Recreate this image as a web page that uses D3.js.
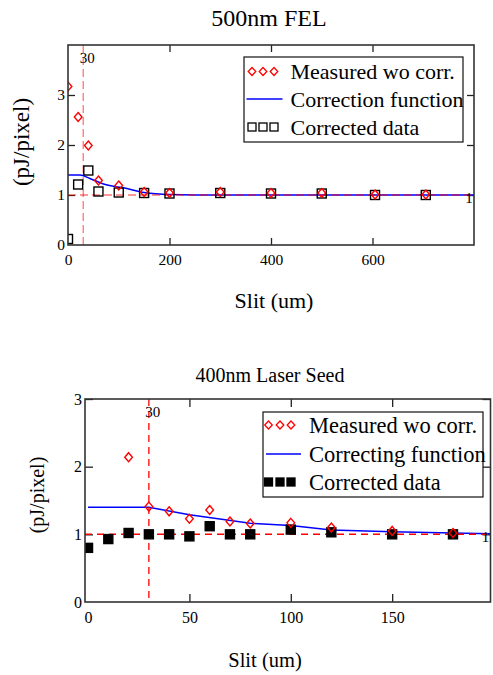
<!DOCTYPE html>
<html>
<head>
<meta charset="utf-8">
<script src="https://cdn.jsdelivr.net/npm/d3@7"></script>
<style>
  body { margin: 0; background: #fff; }
  svg text { font-family: "Liberation Serif", "Times New Roman", serif; }
</style>
</head>
<body>
<svg id="chart" width="493" height="675"></svg>
<script>
// ---- 500nm FEL panel data ----
var felSlit = [0, 20, 40, 60, 100, 150, 200, 300, 400, 500, 605, 705];
var felMeasured = [3.17, 2.56, 1.99, 1.29, 1.19, 1.06, 1.04, 1.06, 1.04, 1.04, 1.01, 1.01];
var felCorrected = [0.12, 1.21, 1.49, 1.07, 1.05, 1.04, 1.03, 1.04, 1.03, 1.03, 1.00, 1.00];
var felFuncSlit = [0, 24, 43, 70, 116, 150, 200, 300, 800];
var felFuncValue = [1.40, 1.40, 1.33, 1.22, 1.13, 1.05, 1.01, 1.00, 1.00];
var felXTicks = [0, 200, 400, 600];
var felYTicks = [0, 1, 2, 3];

// ---- 400nm Laser Seed panel data ----
var seedMeasSlit = [20, 30, 40, 50, 60, 70, 80, 100, 120, 150, 180];
var seedMeasured = [2.14, 1.41, 1.34, 1.23, 1.36, 1.19, 1.16, 1.17, 1.10, 1.05, 1.02];
var seedCorrSlit = [0, 10, 20, 30, 40, 50, 60, 70, 80, 100, 120, 150, 180];
var seedCorrected = [0.80, 0.93, 1.02, 1.00, 1.00, 0.97, 1.12, 1.00, 1.00, 1.07, 1.03, 1.00, 1.00];
var seedFuncSlit = [0, 30, 50, 80, 100, 120, 150, 180, 199];
var seedFuncValue = [1.40, 1.40, 1.29, 1.165, 1.13, 1.065, 1.04, 1.02, 1.01];
var seedXTicks = [0, 50, 100, 150];
var seedYTicks = [0, 1, 2, 3];

var cutoff = 30;   // vertical marker
var unity = 1;     // horizontal marker

var svg = d3.select("#chart");

function zip(xs, ys) {
    return xs.map(function(x, i) { return {x: x, y: ys[i]}; });
}

function drawPanel(o) {
    var g = svg.append("g");
    var x = d3.scaleLinear().domain(o.xDomain).range([o.left, o.right]);
    var y = d3.scaleLinear().domain(o.yDomain).range([o.bottom, o.top]);
    var w = o.right - o.left, h = o.bottom - o.top;
    var fmt = d3.format("d");

    var clipId = "clip" + o.id;
    svg.append("clipPath").attr("id", clipId)
        .append("rect").attr("x", o.left).attr("y", o.top).attr("width", w).attr("height", h);

    // title and axis titles
    g.append("text").attr("x", o.titleX).attr("y", o.titleY)
        .attr("text-anchor", "middle").style("font-size", o.titleSize + "px").text(o.title);
    g.append("text").attr("x", o.xTitleX).attr("y", o.xTitleY)
        .attr("text-anchor", "middle").style("font-size", o.axisTitleSize + "px").text("Slit (um)");
    g.append("text")
        .attr("transform", "translate(" + o.yTitleX + "," + o.yTitleY + ") rotate(-90)")
        .attr("text-anchor", "middle").attr("dy", "0.35em")
        .style("font-size", o.yTitleSize + "px").text("(pJ/pixel)");

    // axes with inward ticks
    var tk = o.tickLen;
    g.append("g").attr("transform", "translate(0," + o.bottom + ")")
        .call(d3.axisBottom(x).tickValues(o.xTicks).tickSize(-tk).tickPadding(o.xPad).tickFormat(fmt));
    g.append("g").attr("transform", "translate(0," + o.top + ")")
        .call(d3.axisTop(x).tickValues(o.xTicks).tickSize(-tk).tickFormat(""));
    g.append("g").attr("transform", "translate(" + o.left + ",0)")
        .call(d3.axisLeft(y).tickValues(o.yTicks).tickSize(-tk).tickPadding(o.yPad).tickFormat(fmt));
    g.append("g").attr("transform", "translate(" + o.right + ",0)")
        .call(d3.axisRight(y).tickValues(o.yTicks).tickSize(-tk).tickFormat(""));
    g.selectAll(".domain").remove();
    g.selectAll(".tick").filter(function(d) { return d === 0; }).select("line").remove();
    g.selectAll(".tick line").attr("stroke", "#222").attr("stroke-width", 1.3);
    g.selectAll(".tick text")
        .style("font-family", "'Liberation Serif', serif")
        .style("font-size", o.tickSize + "px").attr("fill", "#000");

    var plot = g.append("g").attr("clip-path", "url(#" + clipId + ")");

    // correction function
    var line = d3.line().x(function(d) { return x(d.x); }).y(function(d) { return y(d.y); })
        .curve(o.curve);
    plot.append("path").datum(zip(o.funcSlit, o.funcValue))
        .attr("d", line).attr("fill", "none").attr("stroke", "#0000ff").attr("stroke-width", 1.5);

    // reference lines
    plot.append("line").attr("x1", o.left).attr("x2", o.right)
        .attr("y1", y(unity)).attr("y2", y(unity))
        .attr("stroke", "#ff0000").attr("stroke-opacity", o.refOpacity)
        .attr("stroke-width", 1.5).attr("stroke-dasharray", o.dash);
    plot.append("line").attr("x1", x(cutoff)).attr("x2", x(cutoff))
        .attr("y1", o.top).attr("y2", o.bottom)
        .attr("stroke", "#ff0000").attr("stroke-opacity", o.refOpacity)
        .attr("stroke-width", 1.3).attr("stroke-dasharray", o.dash);

    // corrected data squares
    var s = o.squareSize;
    plot.selectAll(".sq").data(zip(o.corrSlit, o.corrected)).enter()
        .append("rect")
        .attr("x", function(d) { return x(d.x) - s / 2; })
        .attr("y", function(d) { return y(d.y) - s / 2; })
        .attr("width", s).attr("height", s)
        .attr("fill", o.squareFill).attr("stroke", "#000").attr("stroke-width", 1.4);

    // measured diamonds
    var dr = o.diamond;
    var diamondPath = "M0," + (-dr) + "L" + (dr * 0.85) + ",0L0," + dr + "L" + (-dr * 0.85) + ",0Z";
    plot.selectAll(".dm").data(zip(o.measSlit, o.measured)).enter()
        .append("path")
        .attr("transform", function(d) { return "translate(" + x(d.x) + "," + y(d.y) + ")"; })
        .attr("d", diamondPath)
        .attr("fill", "none").attr("stroke", "#ff0000").attr("stroke-width", 1.4);

    // marker labels
    g.append("text").attr("x", x(cutoff) + 4).attr("y", o.top + o.cutLabelDy)
        .attr("text-anchor", "middle").style("font-size", "15px").text(cutoff);
    g.append("text").attr("x", o.right - 5).attr("y", y(unity) + 8)
        .attr("text-anchor", "middle").style("font-size", "15px").text(unity);

    // frame
    g.append("rect").attr("x", o.left).attr("y", o.top).attr("width", w).attr("height", h)
        .attr("fill", "none").attr("stroke", "#333").attr("stroke-width", 1.6);

    // legend
    var L = o.legend;
    var lg = g.append("g");
    lg.append("rect").attr("x", L.x).attr("y", L.y).attr("width", L.w).attr("height", L.h)
        .attr("fill", "#fff").attr("stroke", "#111").attr("stroke-width", 1.2);
    var labels = [o.labelMeasured, o.labelFunc, o.labelCorrected];
    labels.forEach(function(t, i) {
        lg.append("text").attr("x", L.textX).attr("y", L.rows[i]).attr("dy", "0.35em")
            .style("font-size", L.size + "px").text(t);
    });
    L.sym.forEach(function(cx) {
        lg.append("path").attr("transform", "translate(" + cx + "," + L.rows[0] + ")")
            .attr("d", "M0,-4L3.8,0L0,4L-3.8,0Z")
            .attr("fill", "none").attr("stroke", "#ff0000").attr("stroke-width", 1.3);
        lg.append("rect").attr("x", cx - 4).attr("y", L.rows[2] - 4).attr("width", 8).attr("height", 8)
            .attr("fill", o.squareFill).attr("stroke", "#000").attr("stroke-width", 1.3);
    });
    lg.append("line").attr("x1", L.lineX[0]).attr("x2", L.lineX[1])
        .attr("y1", L.rows[1]).attr("y2", L.rows[1])
        .attr("stroke", "#0000ff").attr("stroke-width", 1.5);
}

drawPanel({
    id: 1, title: "500nm FEL",
    left: 68, right: 474, top: 45, bottom: 245,
    xDomain: [0, 800], yDomain: [0, 4],
    xTicks: felXTicks, yTicks: felYTicks,
    tickLen: 7, xPad: 9, yPad: 3, tickSize: 15.5,
    titleX: 269, titleY: 26, titleSize: 24,
    xTitleX: 274, xTitleY: 308, axisTitleSize: 22,
    yTitleX: 21, yTitleY: 142, yTitleSize: 23,
    funcSlit: felFuncSlit, funcValue: felFuncValue, curve: d3.curveMonotoneX,
    measSlit: felSlit, measured: felMeasured,
    corrSlit: felSlit, corrected: felCorrected,
    squareSize: 9, squareFill: "none", diamond: 4.5,
    refOpacity: 0.55, dash: "8,4", cutLabelDy: 18,
    labelMeasured: "Measured wo corr.", labelFunc: "Correction function", labelCorrected: "Corrected data",
    legend: {x: 244, y: 57, w: 219, h: 85, rows: [71.5, 99, 127], textX: 290.5, size: 22,
             sym: [252, 263, 274], lineX: [246.5, 282.5]}
});

drawPanel({
    id: 2, title: "400nm Laser Seed",
    left: 85, right: 490.5, top: 399, bottom: 602,
    xDomain: [-1.5, 198.5], yDomain: [0, 3],
    xTicks: seedXTicks, yTicks: seedYTicks,
    tickLen: 8, xPad: 10, yPad: 3, tickSize: 16,
    titleX: 270, titleY: 382, titleSize: 20,
    xTitleX: 265, xTitleY: 667, axisTitleSize: 20.5,
    yTitleX: 37, yTitleY: 495, yTitleSize: 20,
    funcSlit: seedFuncSlit, funcValue: seedFuncValue, curve: d3.curveLinear,
    measSlit: seedMeasSlit, measured: seedMeasured,
    corrSlit: seedCorrSlit, corrected: seedCorrected,
    squareSize: 9, squareFill: "#000", diamond: 4.5,
    refOpacity: 1, dash: "7,5", cutLabelDy: 18,
    labelMeasured: "Measured wo corr.", labelFunc: "Correcting function", labelCorrected: "Corrected data",
    legend: {x: 263, y: 412, w: 220, h: 85, rows: [425, 454, 482], textX: 309, size: 22.5,
             sym: [268.5, 280, 291], lineX: [266, 301]}
});
</script>
</body>
</html>
